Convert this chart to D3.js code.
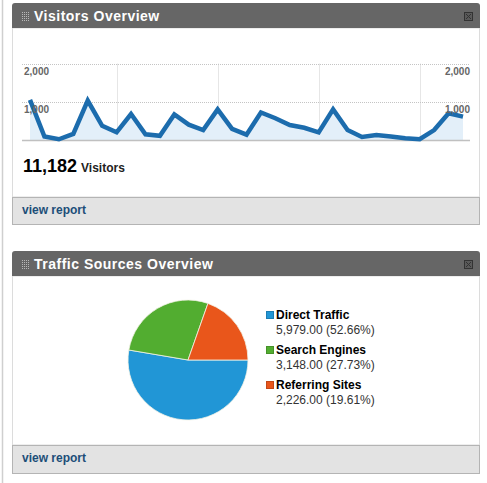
<!DOCTYPE html>
<html>
<head>
<meta charset="utf-8">
<script src="https://cdn.jsdelivr.net/npm/d3@7"></script>
<style>
  body { margin: 0; background: #fff; }
  svg { display: block; font-family: "Liberation Sans", Arial, sans-serif; }
</style>
</head>
<body>
<div id="dash"></div>
<script>
// daily visitors, one point per day
var visitors = [1050, 90, 20, 160, 1030, 370, 200, 680, 150, 110, 670, 400, 260, 800, 290,
                140, 720, 570, 390, 320, 200, 800, 260, 80, 130, 90, 45, 20, 260, 700, 610];
var weekTicks = [6, 13, 20, 27];
var yTicks = [1000, 2000];
var totalVisitors = 11182;

var sources = ["Direct Traffic", "Search Engines", "Referring Sites"];
var sourceValues = [5979, 3148, 2226];
var sourceColors = ["#2196d6", "#52ad30", "#e9561b"];

var panelTitles = ["Visitors Overview", "Traffic Sources Overview"];

var W = 487, H = 483;
var svg = d3.select("#dash").append("svg").attr("width", W).attr("height", H);

// left page edge
svg.append("line").attr("x1", 2.5).attr("x2", 2.5).attr("y1", 0).attr("y2", H)
  .attr("stroke", "#cfcfcf").attr("stroke-width", 1.5);

var panels = [
  { top: 3, footTop: 197, footBottom: 225 },
  { top: 251, footTop: 445, footBottom: 474 }
];
var px = 12, pw = 468;

panels.forEach(function(p, i) {
  var g = svg.append("g");
  // body
  g.append("rect").attr("x", px + 0.5).attr("y", p.top + 25).attr("width", pw - 1)
    .attr("height", p.footTop - p.top - 25).attr("fill", "#fff").attr("stroke", "#dcdcdc");
  // footer
  g.append("rect").attr("x", px + 0.5).attr("y", p.footTop + 0.5).attr("width", pw - 1)
    .attr("height", p.footBottom - p.footTop - 1).attr("fill", "#e3e3e3").attr("stroke", "#b4b4b4");
  g.append("text").attr("x", 22).attr("y", p.footTop + 17)
    .attr("font-size", 12).attr("font-weight", "bold").attr("fill", "#1d4e78")
    .text("view report");
  // header with rounded top
  var r = 3, x0 = px, x1 = px + pw, y0 = p.top, y1 = p.top + 25;
  g.append("path").attr("fill", "#666")
    .attr("d", "M" + x0 + "," + y1 + "V" + (y0 + r) + "Q" + x0 + "," + y0 + " " + (x0 + r) + "," + y0 +
      "H" + (x1 - r) + "Q" + x1 + "," + y0 + " " + x1 + "," + (y0 + r) + "V" + y1 + "Z");
  // grip
  var grip = g.append("g").attr("transform", "translate(22," + (p.top + 9) + ")");
  d3.range(4).forEach(function(c) {
    d3.range(5).forEach(function(rr) {
      grip.append("rect").attr("x", c * 2).attr("y", rr * 2).attr("width", 1).attr("height", 1)
        .attr("fill", "#b8b8b8");
    });
  });
  g.append("text").attr("x", 34).attr("y", p.top + 17.5)
    .attr("font-size", 14).attr("font-weight", "bold").attr("fill", "#fff")
    .attr("letter-spacing", 0.5).text(panelTitles[i]);
  // close box
  var cb = g.append("g").attr("transform", "translate(464.5," + (p.top + 9.5) + ")")
    .attr("stroke", "#333");
  cb.append("rect").attr("width", 8).attr("height", 8).attr("fill", "#5a5a5a");
  cb.append("path").attr("fill", "none").attr("d", "M1.5,1.5L6.5,6.5M6.5,1.5L1.5,6.5");
});

// ---- visitors line chart ----
var x = d3.scaleLinear().domain([0, visitors.length - 1]).range([30, 463]);
var y = d3.scaleLinear().domain([0, 2000]).range([140, 63.5]);

var chart = svg.append("g");
chart.selectAll(".vgrid").data(weekTicks).enter().append("line")
  .attr("x1", function(d) { return Math.round(x(d)) + 0.5; })
  .attr("x2", function(d) { return Math.round(x(d)) + 0.5; })
  .attr("y1", y(2000)).attr("y2", y(0))
  .attr("stroke", "#e6e6e6");
chart.selectAll(".hgrid").data(yTicks).enter().append("line")
  .attr("x1", 22).attr("x2", 470)
  .attr("y1", function(d) { return Math.round(y(d)) + 0.5; })
  .attr("y2", function(d) { return Math.round(y(d)) + 0.5; })
  .attr("stroke", "#c4c4c4").attr("stroke-dasharray", "1,1");

chart.append("path").datum(visitors)
  .attr("fill", "#e3eff9")
  .attr("d", d3.area().x(function(d, i) { return x(i); }).y0(y(0)).y1(function(d) { return y(d); }));

chart.append("line").attr("x1", 22).attr("x2", 470).attr("y1", y(0) + 0.5).attr("y2", y(0) + 0.5)
  .attr("stroke", "#c0c0c0").attr("stroke-width", 1.5);

chart.append("path").datum(visitors)
  .attr("fill", "none").attr("stroke", "#1c6cad").attr("stroke-width", 4.5)
  .attr("stroke-linejoin", "miter")
  .attr("d", d3.line().x(function(d, i) { return x(i); }).y(function(d) { return y(d); }));

var fmt = d3.format(",");
chart.selectAll(".ylab-l").data(yTicks).enter().append("text")
  .attr("x", 24).attr("y", function(d) { return y(d) + 11.5; })
  .attr("font-size", 10).attr("font-weight", "bold").attr("fill", "#666")
  .text(fmt);
chart.selectAll(".ylab-r").data(yTicks).enter().append("text")
  .attr("x", 470).attr("y", function(d) { return y(d) + 11.5; })
  .attr("text-anchor", "end")
  .attr("font-size", 10).attr("font-weight", "bold").attr("fill", "#666")
  .text(fmt);

var tot = svg.append("text").attr("x", 23).attr("y", 172);
tot.append("tspan").attr("font-size", 18).attr("font-weight", "bold").attr("fill", "#000")
  .text(fmt(totalVisitors));
tot.append("tspan").attr("dx", 4).attr("font-size", 12).attr("font-weight", "bold").attr("fill", "#222")
  .text("Visitors");

// ---- traffic sources pie ----
var pieData = sources.map(function(s, i) { return { name: s, value: sourceValues[i], color: sourceColors[i] }; });
var total = d3.sum(sourceValues);
var pie = d3.pie().value(function(d) { return d.value; }).sort(null)
  .startAngle(Math.PI / 2).endAngle(Math.PI / 2 + 2 * Math.PI);
var arc = d3.arc().innerRadius(0).outerRadius(60);

svg.append("g").attr("transform", "translate(188,360)")
  .selectAll("path").data(pie(pieData)).enter().append("path")
  .attr("d", arc)
  .attr("fill", function(d) { return d.data.color; })
  .attr("stroke", "#f3f3e6").attr("stroke-width", 0.8);

var legend = svg.append("g").selectAll("g").data(pieData).enter().append("g")
  .attr("transform", function(d, i) { return "translate(266," + (319 + i * 35) + ")"; });
legend.append("rect").attr("x", 0.5).attr("y", -7.5).attr("width", 7).attr("height", 7)
  .attr("fill", function(d) { return d.color; })
  .attr("stroke", function(d) { return d3.color(d.color).darker(0.5); });
legend.append("text").attr("x", 10).attr("y", 0)
  .attr("font-size", 12).attr("font-weight", "bold").attr("fill", "#000")
  .text(function(d) { return d.name; });
var f2 = d3.format(",.2f");
legend.append("text").attr("x", 10).attr("y", 15)
  .attr("font-size", 12).attr("fill", "#333")
  .text(function(d) { return f2(d.value) + " (" + (100 * d.value / total).toFixed(2) + "%)"; });
</script>
</body>
</html>
